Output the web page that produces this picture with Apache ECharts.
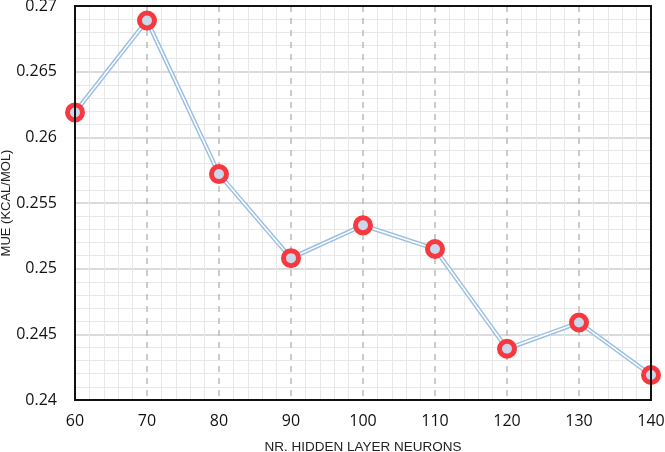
<!DOCTYPE html>
<html><head><meta charset="utf-8">
<script src="https://cdn.jsdelivr.net/npm/echarts@6/dist/echarts.min.js"></script>
<style>html,body{margin:0;padding:0;background:#fff}#c{width:665px;height:452px}</style>
</head><body><div id="c"></div>
<script>
const neurons = [60, 70, 80, 90, 100, 110, 120, 130, 140];
const mue = [0.2619, 0.2689, 0.2572, 0.2508, 0.2533, 0.2515, 0.2439, 0.2459, 0.2419];
const xName = 'NR. HIDDEN LAYER NEURONS';
const yName = 'MUE (KCAL/MOL)';
const pts = neurons.map((n, i) => [n, mue[i]]);
const chart = echarts.init(document.getElementById('c'));
chart.setOption({
  animation: false,
  grid: {left: 75, right: 14, top: 6, bottom: 52, containLabel: false, outerBoundsMode: 'none'},
  xAxis: {
    type: 'value', min: 60, max: 140, interval: 10,
    name: xName, nameLocation: 'middle', nameGap: 40, nameMoveOverlap: false,
    nameTextStyle: {fontFamily: 'Liberation Sans', fontSize: 13.5, color: '#222'},
    axisLine: {show: true, lineStyle: {color: '#111', width: 2}},
    axisTick: {show: false},
    axisLabel: {fontFamily: 'Open Sans', fontSize: 16, color: '#111', margin: 13},
    splitLine: {show: true, lineStyle: {color: '#bbb', type: [6, 6], width: 1.5}},
    minorTick: {show: false, splitNumber: 5},
    minorSplitLine: {show: true, lineStyle: {color: '#e8e8e8', width: 1}}
  },
  yAxis: {
    type: 'value', min: 0.24, max: 0.27, interval: 0.005,
    name: yName, nameLocation: 'middle', nameGap: 62, nameMoveOverlap: false,
    nameTextStyle: {fontFamily: 'Liberation Sans', fontSize: 13, color: '#222'},
    axisLine: {show: true, lineStyle: {color: '#111', width: 2}},
    axisTick: {show: false},
    axisLabel: {fontFamily: 'Open Sans', fontSize: 16, color: '#111', margin: 18},
    splitLine: {show: true, lineStyle: {color: '#cfcfcf', width: 1.5}},
    minorTick: {show: false, splitNumber: 5},
    minorSplitLine: {show: true, lineStyle: {color: '#e8e8e8', width: 1}}
  },
  series: [
    {type: 'line', data: pts, symbol: 'none', z: 2,
     lineStyle: {color: '#9cc0e4', width: 4.5}},
    {type: 'line', data: pts, symbol: 'circle', symbolSize: 15, z: 3,
     lineStyle: {color: '#ffffff', width: 1.5},
     itemStyle: {color: '#c9d8ea', borderColor: '#f7393f', borderWidth: 5}}
  ],
  graphic: [{type: 'rect', shape: {x: 75, y: 6, width: 576, height: 394}, style: {fill: 'none', stroke: '#111', lineWidth: 2}, z: 100}]
});
</script></body></html>
